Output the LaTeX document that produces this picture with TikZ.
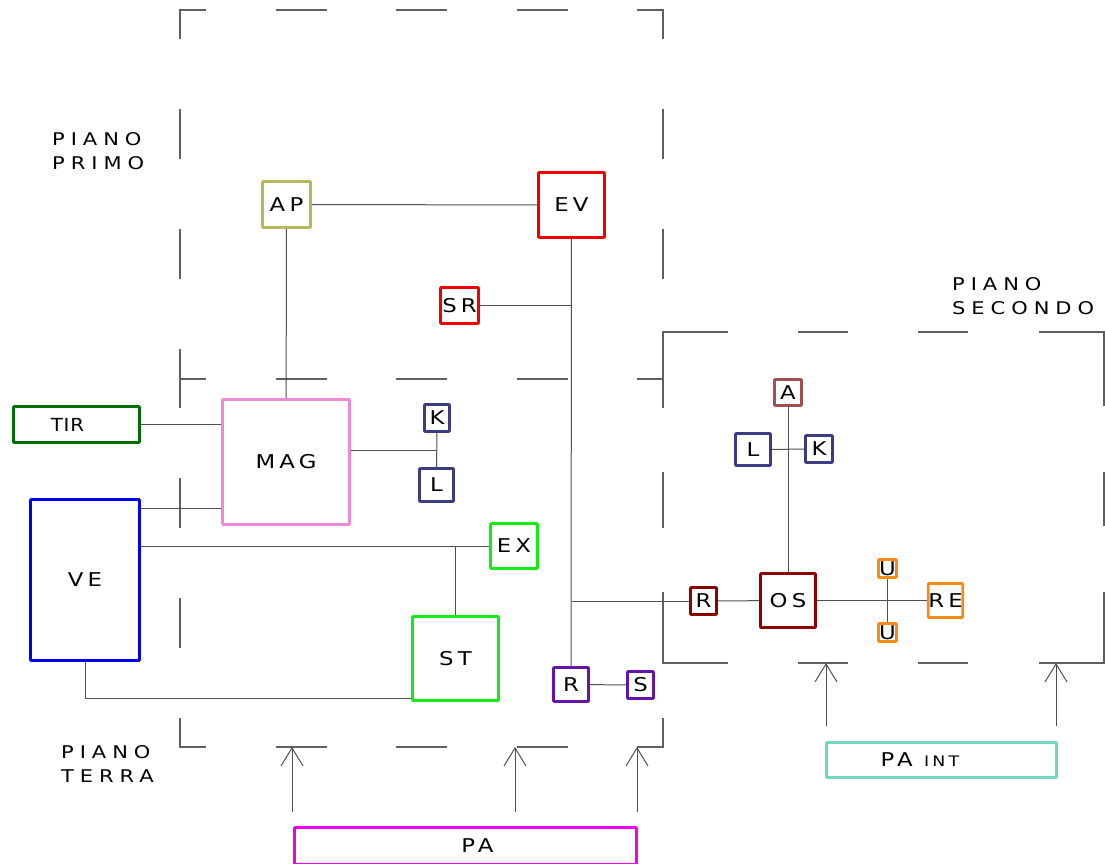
\documentclass[tikz,border=0pt]{standalone}
\usepackage{fontspec}
\setmainfont{DejaVu Sans}
\newfontfamily\cad[FakeStretch=1.2,LetterSpace=22]{DejaVu Sans}
\newfontfamily\cadwide[FakeStretch=1.2,LetterSpace=34]{DejaVu Sans}
\newfontfamily\cadtight[FakeStretch=1.1,LetterSpace=5]{DejaVu Sans}
\usetikzlibrary{arrows.meta}
\definecolor{cAP}{RGB}{184,184,96}
\definecolor{cRed}{RGB}{240,0,0}
\definecolor{cMag}{RGB}{240,136,216}
\definecolor{cTir}{RGB}{0,110,0}
\definecolor{cVe}{RGB}{0,0,240}
\definecolor{cGreen}{RGB}{20,235,20}
\definecolor{cNavy}{RGB}{60,60,130}
\definecolor{cPurple}{RGB}{100,20,170}
\definecolor{cDark}{RGB}{140,0,0}
\definecolor{cA}{RGB}{160,80,80}
\definecolor{cOrange}{RGB}{245,140,20}
\definecolor{cPA}{RGB}{240,0,240}
\definecolor{cPAint}{RGB}{112,216,192}
\definecolor{linegray}{RGB}{80,80,80}
\definecolor{dashgray}{RGB}{95,95,95}
\begin{document}
\begin{tikzpicture}[x=1pt,y=-1pt,
  every node/.style={font=\cad\fontsize{19}{22}\selectfont, inner sep=0pt},
  box/.style={draw, line width=2.8pt, rounded corners=0.8pt},
  conn/.style={draw=linegray, line width=1pt},
  bound/.style={draw=dashgray, line width=1.2pt, line cap=rect},
  inflow/.style={draw=linegray, line width=1pt, -{Straight Barb[length=18pt,width=22pt]}},
  floorlabel/.style={align=left, anchor=north west, font=\cadwide\fontsize{17.5}{24}\selectfont}
]
\useasboundingbox (0,0) rectangle (1105,863);

% floor boundaries (dashed)
\foreach \y in {10,379,747}
  \foreach \a/\b in {180/205,277/326,397/446,518/567,638/663}
    \draw[bound] (\a,\y) -- (\b,\y);
\foreach \x in {180,663}
  \foreach \a/\b in {10/38,110/158,230/278,350/407,479/527,599/647,719/747}
    \draw[bound] (\x,\a) -- (\x,\b);
\foreach \y in {332,663}
  \foreach \a/\b in {663/727,799/847,919/967,1040/1104}
    \draw[bound] (\a,\y) -- (\b,\y);
\foreach \x in {663,1104}
  \foreach \a/\b in {332/405,473/525,593/663}
    \draw[bound] (\x,\a) -- (\x,\b);

% floor labels
\node[floorlabel] (primo) at (52,132) {PIANO\\PRIMO};
\node[floorlabel] (terra) at (61,745) {PIANO\\TERRA};
\node[floorlabel] (secondo) at (952,277) {PIANO\\SECONDO};

% nodes
\node[box, draw=cAP, minimum width=48, minimum height=46] (ap) at (286.5,204.5) {AP};
\node[box, draw=cRed, minimum width=66, minimum height=65] (ev) at (571.5,205) {EV};
\node[box, draw=cRed, minimum width=38, minimum height=36] (sr) at (459.5,305.5) {SR};
\node[box, draw=cMag, minimum width=127, minimum height=125] (mag) at (286,462) {MAG};
\node[box, draw=cTir, minimum width=126, minimum height=36, font=\cadtight\fontsize{18}{20}\selectfont] (tir) at (76.5,424.5) {TIR\hspace*{18pt}};
\node[box, draw=cVe, minimum width=109, minimum height=161] (ve) at (85,580) {VE};
\node[box, draw=cGreen, minimum width=47, minimum height=45] (ex) at (514,546) {EX};
\node[box, draw=cGreen, minimum width=86, minimum height=84] (st) at (455.5,658.5) {ST};
\node[box, draw=cNavy, minimum width=25, minimum height=27] (k1) at (437,418) {K};
\node[box, draw=cNavy, minimum width=34, minimum height=33] (l1) at (436.5,485) {L};
\node[box, draw=cPurple, minimum width=35, minimum height=34] (r1) at (571,684.5) {R};
\node[box, draw=cPurple, minimum width=26, minimum height=27] (s1) at (640.5,685) {S};
\node[box, draw=cDark, minimum width=26, minimum height=27] (r2) at (703.5,601) {R};
\node[box, draw=cDark, minimum width=55, minimum height=54] (os) at (788,600.5) {OS};
\node[box, draw=cA, minimum width=27, minimum height=26] (a2) at (788,392.5) {A};
\node[box, draw=cNavy, minimum width=35, minimum height=32] (l2) at (753,449.5) {L};
\node[box, draw=cNavy, minimum width=27, minimum height=27] (k2) at (819,449) {K};
\node[box, draw=cOrange, minimum width=18, minimum height=18] (u1) at (887.5,568.5) {U};
\node[box, draw=cOrange, minimum width=18, minimum height=18] (u2) at (887.5,632.5) {U};
\node[box, draw=cOrange, minimum width=34, minimum height=34] (re) at (945.5,600.5) {RE};
\node[box, draw=cPA, minimum width=342, minimum height=37] (pa) at (465.5,846) {\hspace*{24pt}PA};
\node[box, draw=cPAint, minimum width=230, minimum height=35] (paint) at (941.5,760) {PA {\fontsize{14.5}{16}\selectfont INT}\hspace*{43pt}};

% connectors
\draw[conn] (ap) -- (ev);
\draw[conn] (ap) -- (mag);
\draw[conn] (ev) -- (r1);
\draw[conn] (sr.east) -- (sr.east -| ev.south);
\draw[conn] (r2.west -| ev.south) -- (r2.west);
\draw[conn] (r2) -- (os);
\draw[conn] (os) -- (re);
\draw[conn] (u1) -- (u2);
\draw[conn] (a2) -- (os);
\draw[conn] (l2) -- (k2);
\draw[conn] (tir.east) -- (tir.east -| mag.west);
\draw[conn] ([yshift=-10pt]ve.north east) -- ([yshift=-10pt]ve.north east -| mag.west);
\draw[conn] (ex.west) -- (ex.west -| ve.east);
\draw[conn] (st.north) -- (st.north |- ex.west);
\draw[conn] (ve.south) |- ([yshift=-40pt]st.west);
\draw[conn] ([yshift=12pt]mag.east) -- ([yshift=12pt]mag.east -| k1.south);
\draw[conn] (k1) -- (l1);
\draw[conn] (r1) -- (s1);

% inflow arrows
\foreach \x [count=\i] in {292,515,637} {
  \coordinate (pas\i) at (\x,812);
  \coordinate (pae\i) at (\x,747);
  \draw[inflow] (pas\i) -- (pae\i);
}
\foreach \x [count=\i] in {826,1056} {
  \coordinate (pis\i) at (\x,726);
  \coordinate (pie\i) at (\x,663);
  \draw[inflow] (pis\i) -- (pie\i);
}
\end{tikzpicture}
\end{document}
